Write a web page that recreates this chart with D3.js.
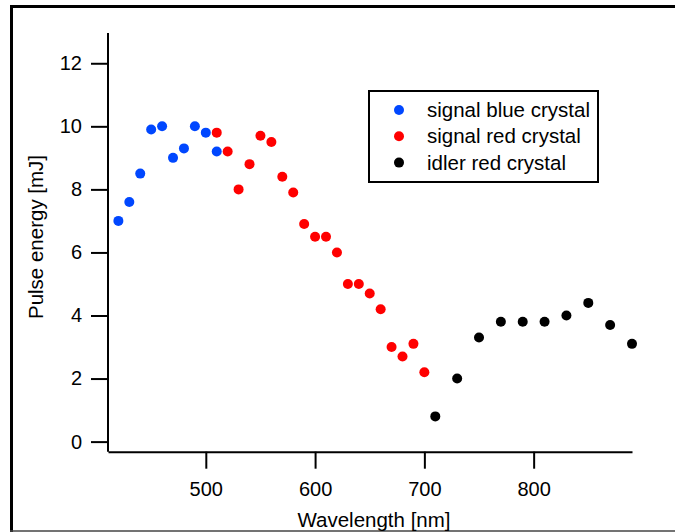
<!DOCTYPE html>
<html>
<head>
<meta charset="utf-8">
<script src="https://cdn.jsdelivr.net/npm/d3@7"></script>
<style>
    html, body { margin: 0; padding: 0; background: #fff; }
    svg text { font-family: "Liberation Sans", Arial, sans-serif; fill: #000; }
</style>
</head>
<body>
<div id="chart"></div>
<script>
// Wavelength [nm] and pulse energy [mJ] for each series
const blueWavelength = [420, 430, 440, 450, 460, 470, 480, 490, 500, 510];
const blueEnergy     = [7.0, 7.6, 8.5, 9.9, 10.0, 9.0, 9.3, 10.0, 9.8, 9.2];

const redWavelength = [510, 520, 530, 540, 550, 560, 570, 580, 590, 600, 610, 620,
                       630, 640, 650, 660, 670, 680, 690, 700];
const redEnergy     = [9.8, 9.2, 8.0, 8.8, 9.7, 9.5, 8.4, 7.9, 6.9, 6.5, 6.5, 6.0,
                       5.0, 5.0, 4.7, 4.2, 3.0, 2.7, 3.1, 2.2];

const idlerWavelength = [710, 730, 750, 770, 790, 810, 830, 850, 870, 890];
const idlerEnergy     = [0.8, 2.0, 3.3, 3.8, 3.8, 3.8, 4.0, 4.4, 3.7, 3.1];

const seriesNames = ["signal blue crystal", "signal red crystal", "idler red crystal"];
const seriesColors = ["#0047ff", "#ff0000", "#000000"];

const xTicks = [500, 600, 700, 800];
const yTicks = [0, 2, 4, 6, 8, 10, 12];

const series = [
    { name: seriesNames[0], color: seriesColors[0], x: blueWavelength, y: blueEnergy },
    { name: seriesNames[1], color: seriesColors[1], x: redWavelength, y: redEnergy },
    { name: seriesNames[2], color: seriesColors[2], x: idlerWavelength, y: idlerEnergy }
];

const width = 675;
const height = 532;

const svg = d3.select("#chart")
    .append("svg")
    .attr("width", width)
    .attr("height", height);

// Frame: left + top thick, bottom thin grey
svg.append("path")
    .attr("d", "M11.5,532 L11.5,6.5 L675,6.5")
    .attr("fill", "none")
    .attr("stroke", "#000")
    .attr("stroke-width", 3);
svg.append("line")
    .attr("x1", 10).attr("x2", 675)
    .attr("y1", 531).attr("y2", 531)
    .attr("stroke", "#444")
    .attr("stroke-width", 1.5);

// Scales
const x = d3.scaleLinear()
    .domain([410.5, 890])
    .range([108, 632]);

const y = d3.scaleLinear()
    .domain([-0.32, 12.96])
    .range([451.7, 33]);

// Axes
const xAxis = svg.append("g")
    .attr("transform", `translate(0, ${y.range()[0]})`)
    .call(d3.axisBottom(x)
        .tickValues(xTicks)
        .tickSize(17)
        .tickSizeOuter(0)
        .tickPadding(13)
        .tickFormat(d3.format("d")));

const yAxis = svg.append("g")
    .attr("transform", `translate(${x.range()[0]}, 0)`)
    .call(d3.axisLeft(y)
        .tickValues(yTicks)
        .tickSize(17)
        .tickSizeOuter(0)
        .tickPadding(9)
        .tickFormat(d3.format("d")));

[xAxis, yAxis].forEach(ax => {
    ax.select(".domain").attr("stroke", "#000").attr("stroke-width", 2);
    ax.selectAll(".tick line").attr("stroke", "#000").attr("stroke-width", 2);
    ax.selectAll(".tick text")
        .attr("font-size", 20)
        .attr("font-family", "Liberation Sans, Arial, sans-serif")
        .attr("fill", "#000");
});

// Extend y axis line down to meet the x axis
yAxis.select(".domain").attr("d", `M0,${y.range()[1]}V${y.range()[0]}`);

// Axis titles
svg.append("text")
    .attr("x", 374)
    .attr("y", 527)
    .attr("text-anchor", "middle")
    .attr("font-size", 20.5)
    .text("Wavelength [nm]");

svg.append("text")
    .attr("transform", "translate(43, 237) rotate(-90)")
    .attr("text-anchor", "middle")
    .attr("font-size", 20.5)
    .text("Pulse energy [mJ]");

// Points
series.forEach(s => {
    svg.append("g")
        .selectAll("circle")
        .data(s.x.map((w, i) => ({ w: w, e: s.y[i] })))
        .enter()
        .append("circle")
        .attr("cx", d => x(d.w))
        .attr("cy", d => y(d.e))
        .attr("r", 5)
        .attr("fill", s.color);
});

// Legend
const legend = svg.append("g")
    .attr("transform", "translate(369, 91)");

legend.append("rect")
    .attr("width", 229)
    .attr("height", 91)
    .attr("fill", "#fff")
    .attr("stroke", "#000")
    .attr("stroke-width", 2);

series.forEach((s, i) => {
    const row = legend.append("g")
        .attr("transform", `translate(0, ${19 + i * 26.3})`);
    row.append("circle")
        .attr("cx", 30)
        .attr("cy", 0)
        .attr("r", 5)
        .attr("fill", s.color);
    row.append("text")
        .attr("x", 58)
        .attr("y", 0)
        .attr("dy", "0.35em")
        .attr("font-size", 20.5)
        .text(s.name);
});
</script>
</body>
</html>
